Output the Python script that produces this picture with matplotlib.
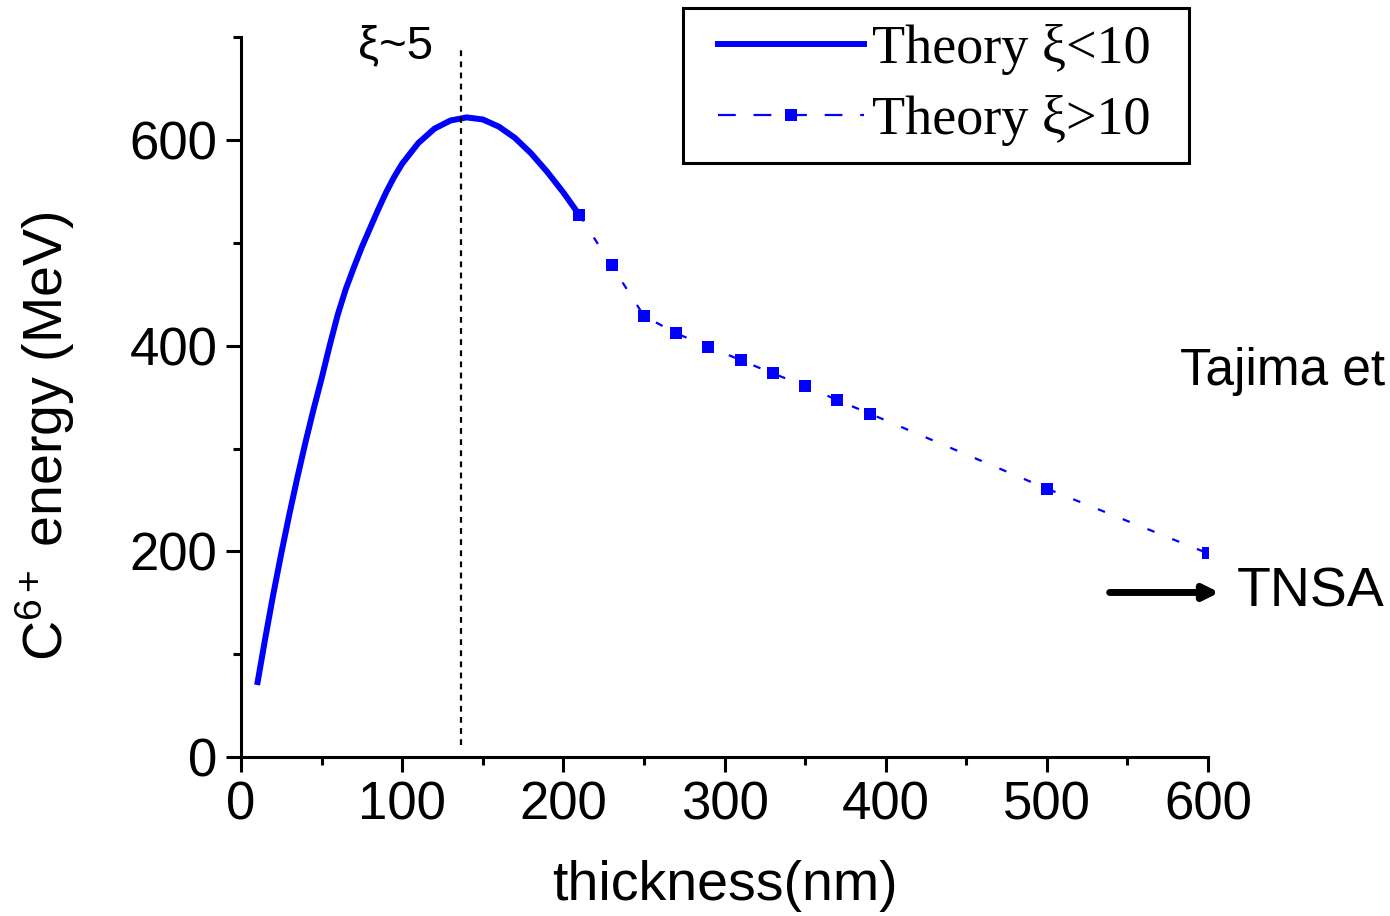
import matplotlib
matplotlib.use("Agg")
import matplotlib.pyplot as plt
from matplotlib.lines import Line2D
from matplotlib.patches import Rectangle
from matplotlib.ticker import MultipleLocator

# ---------------- data ----------------
thin_x = [10, 15, 20, 25, 30, 35, 40, 45, 50, 55, 60, 65, 70, 75, 80, 85, 90, 95,
          100, 110, 120, 130, 140, 150, 160, 170, 180, 190, 200, 210]
thin_y = [70, 115, 158, 198, 236, 272, 306, 338, 368, 400, 430, 455, 476, 496, 514,
          532, 549, 564, 577, 597, 611, 619, 622, 620, 613, 602, 587, 569, 549, 527]

thick_x = [210, 230, 250, 270, 290, 310, 330, 350, 370, 390, 500, 600]
thick_y = [527, 478, 429, 412, 399, 386, 373, 361, 347, 334, 261, 198]

label_thin = "Theory ξ<10"
label_thick = "Theory ξ>10"

xi5_x = 136.5          # thickness where xi ~ 5
xi5_ymin, xi5_ymax = 12, 692
tnsa_energy = 160
tnsa_x0, tnsa_x1 = 539, 607

x_ticks = [0, 100, 200, 300, 400, 500, 600]
y_ticks = [0, 200, 400, 600]

# ---------------- style ----------------
plt.rcParams['font.family'] = ['Liberation Sans', 'DejaVu Sans']
plt.rcParams['mathtext.fontset'] = 'custom'
plt.rcParams['mathtext.rm'] = 'Liberation Sans'
plt.rcParams['mathtext.it'] = 'Liberation Sans'

BLUE = '#0000ff'

fig = plt.figure(figsize=(13.9, 9.16), dpi=100)
ax = fig.add_axes([241/1390, 1-757/916, (1208-241)/1390, 700*1.0283/916])

ax.plot(thin_x, thin_y, color=BLUE, lw=4.3, solid_capstyle='butt')
ax.plot(thick_x, thick_y, color=BLUE, lw=1.6, linestyle=(0, (3.4, 8.6)),
        marker='s', markersize=8.5, markeredgewidth=0)

ax.vlines(xi5_x, xi5_ymin, xi5_ymax, colors='black', linestyles=(0, (2.6, 2.4)), lw=1.6)
ax.text(96, 691, "ξ~5", fontsize=34, ha='center', va='center',
        family=['Liberation Sans', 'DejaVu Sans'])

ax.set_xlim(0, 600)
ax.set_ylim(0, 700)
ax.set_xticks(x_ticks)
ax.set_yticks(y_ticks)
ax.xaxis.set_minor_locator(MultipleLocator(50))
ax.yaxis.set_minor_locator(MultipleLocator(100))

for s in ['top', 'right']:
    ax.spines[s].set_visible(False)
for s in ['left', 'bottom']:
    ax.spines[s].set_linewidth(2.2)

ax.tick_params(axis='both', which='major', direction='out', length=11, width=2.2,
               labelsize=38, pad=6)
ax.tick_params(axis='both', which='minor', direction='out', length=6, width=2.2)

ax.set_xlabel("thickness(nm)", fontsize=40, labelpad=21)
ax.set_ylabel("C$^{6+}$ energy (MeV)", fontsize=40)
ax.yaxis.set_label_coords(-0.17, 0.445)

# TNSA arrow
ax.annotate("", xy=(tnsa_x1, tnsa_energy), xytext=(tnsa_x0, tnsa_energy),
            xycoords='data', annotation_clip=False,
            arrowprops=dict(arrowstyle='-|>', lw=5, color='black', mutation_scale=22,
                            shrinkA=0, shrinkB=0))
ax.text(618, tnsa_energy, "TNSA", fontsize=40, ha='left', va='center', clip_on=False)

fig.text(1180/1390, 1-385/916, "Tajima et", fontsize=37, ha='left', va='baseline')

# legend (custom frame)
handles = [Line2D([], [], color=BLUE, lw=4.3),
           Line2D([], [], color=BLUE, lw=1.6, linestyle=(0, (8, 8)), marker='s',
                  markersize=8.5, markeredgewidth=0)]
leg = fig.legend(handles, [label_thin, label_thick], loc='center left',
                 bbox_to_anchor=(718/1390, 1-85/916), frameon=False,
                 prop={'family': 'Liberation Serif', 'size': 39},
                 handlelength=2.7, handletextpad=0.15, labelspacing=0.37,
                 borderpad=0, borderaxespad=0, numpoints=1)
fig.add_artist(Rectangle((683/1390, 1-163/916), (1189-683)/1390, 155/916,
                         transform=fig.transFigure, fill=False, edgecolor='black', lw=2.2))

fig.savefig("out.png", dpi=100, facecolor='white')
